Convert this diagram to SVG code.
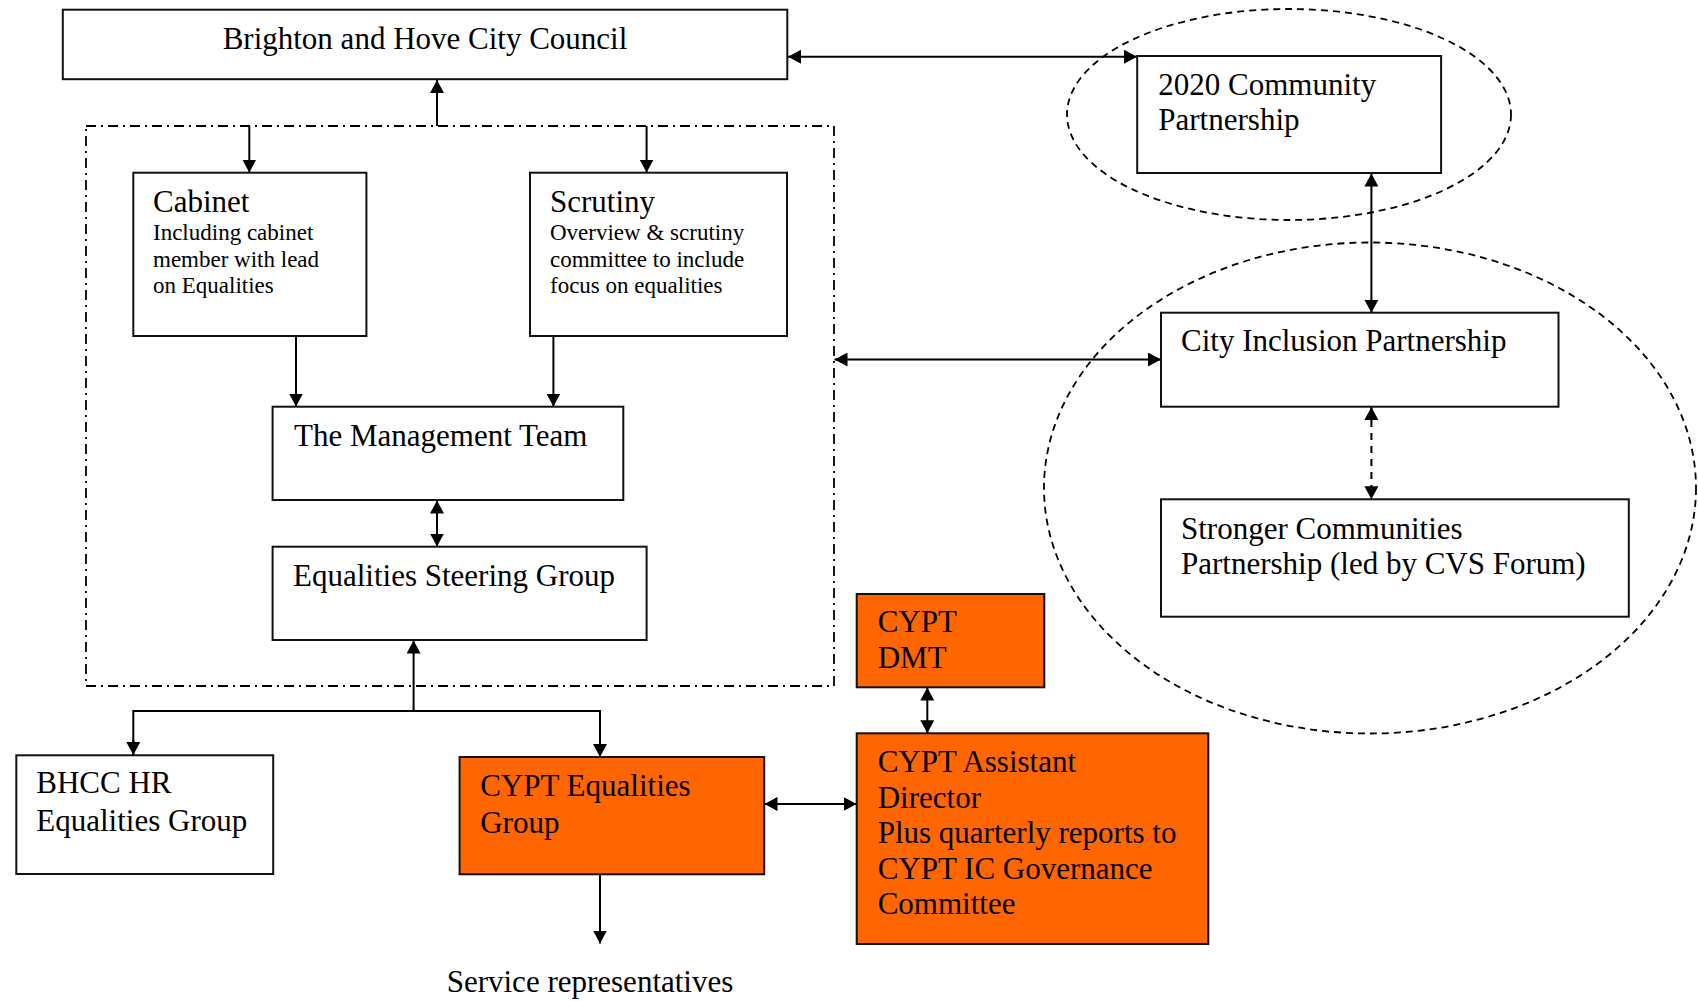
<svg xmlns="http://www.w3.org/2000/svg" width="1698" height="1001" viewBox="0 0 1698 1001">
<style>
.box{fill:#fff;stroke:#111;stroke-width:2}
.org{fill:#ff6600;stroke:#111;stroke-width:2}
.t{font-family:"Liberation Serif","Times New Roman",serif;font-size:31px;fill:#000}
.s{font-family:"Liberation Serif","Times New Roman",serif;font-size:23px;fill:#000}
.c{fill:none;stroke:#000;stroke-width:2}
.d{fill:none;stroke:#000;stroke-width:2;stroke-dasharray:7 6}
.grp{fill:none;stroke:#000;stroke-width:1.8;stroke-dasharray:7 5}
.cont{fill:none;stroke:#000;stroke-width:1.8;stroke-dasharray:10 5 2 5}
</style>
<defs>
<marker id="ah" markerUnits="userSpaceOnUse" markerWidth="14" markerHeight="14" refX="13" refY="7" orient="auto-start-reverse">
<path d="M0,0 L13,7 L0,14 z" fill="#000"/>
</marker>
</defs>
<rect width="1698" height="1001" fill="#fff"/>

<g id="groups">
<rect id="council-group" class="cont" x="86" y="126" width="748" height="560"/>
<ellipse id="community-group" class="grp" cx="1289" cy="114.5" rx="222" ry="105.5"/>
<ellipse id="inclusion-group" class="grp" cx="1370" cy="488" rx="326" ry="245.5"/>
</g>

<g id="connectors">
<line class="c" x1="437" y1="126" x2="437" y2="80" marker-end="url(#ah)"/>
<line class="c" x1="249.3" y1="126" x2="249.3" y2="172.5" marker-end="url(#ah)"/>
<line class="c" x1="646.6" y1="126" x2="646.6" y2="172.5" marker-end="url(#ah)"/>
<line class="c" x1="296" y1="336" x2="296" y2="406.5" marker-end="url(#ah)"/>
<line class="c" x1="553.4" y1="336" x2="553.4" y2="406.5" marker-end="url(#ah)"/>
<line class="c" x1="437" y1="500.5" x2="437" y2="546.5" marker-start="url(#ah)" marker-end="url(#ah)"/>
<line class="c" x1="413.6" y1="711" x2="413.6" y2="640.5" marker-end="url(#ah)"/>
<polyline class="c" points="133.3,755 133.3,711 600,711 600,757"/>
<line class="c" x1="133.3" y1="740" x2="133.3" y2="755" marker-end="url(#ah)"/>
<line class="c" x1="600" y1="740" x2="600" y2="757" marker-end="url(#ah)"/>
<line class="c" x1="600" y1="874.5" x2="600" y2="943.5" marker-end="url(#ah)"/>
<line class="c" x1="764.5" y1="804" x2="856.5" y2="804" marker-start="url(#ah)" marker-end="url(#ah)"/>
<line class="c" x1="927.3" y1="687.5" x2="927.3" y2="733.3" marker-start="url(#ah)" marker-end="url(#ah)"/>
<line class="c" x1="788" y1="56.7" x2="1137" y2="56.7" marker-start="url(#ah)" marker-end="url(#ah)"/>
<line class="c" x1="834.5" y1="359.5" x2="1161" y2="359.5" marker-start="url(#ah)" marker-end="url(#ah)"/>
<line class="c" x1="1371.4" y1="173.5" x2="1371.4" y2="312.7" marker-start="url(#ah)" marker-end="url(#ah)"/>
<line class="d" x1="1371.4" y1="407" x2="1371.4" y2="499.3" marker-start="url(#ah)" marker-end="url(#ah)"/>
</g>

<g id="council">
<rect class="box" x="62.8" y="9.7" width="724.5" height="69.5"/>
<text class="t" x="425" y="49" text-anchor="middle">Brighton and Hove City Council</text>
</g>

<g id="cabinet">
<rect class="box" x="133.3" y="172.7" width="233.1" height="163.3"/>
<text class="t" x="153" y="212">Cabinet</text>
<text class="s" x="153" y="240">Including cabinet</text>
<text class="s" x="153" y="266.7">member with lead</text>
<text class="s" x="153" y="293.3">on Equalities</text>
</g>

<g id="scrutiny">
<rect class="box" x="530" y="172.7" width="257" height="163.3"/>
<text class="t" x="550" y="212">Scrutiny</text>
<text class="s" x="550" y="240">Overview &amp; scrutiny</text>
<text class="s" x="550" y="266.7">committee to include</text>
<text class="s" x="550" y="293.3">focus on equalities</text>
</g>

<g id="management-team">
<rect class="box" x="272.6" y="406.7" width="350.7" height="93.3"/>
<text class="t" x="294" y="446">The Management Team</text>
</g>

<g id="equalities-steering-group">
<rect class="box" x="272.6" y="546.7" width="374" height="93.3"/>
<text class="t" x="293" y="586">Equalities Steering Group</text>
</g>

<g id="bhcc-hr">
<rect class="box" x="16.3" y="755.3" width="256.9" height="118.7"/>
<text class="t" x="36.3" y="793.3">BHCC HR</text>
<text class="t" x="36.3" y="830.7">Equalities Group</text>
</g>

<g id="cypt-equalities-group">
<rect class="org" x="459.6" y="757" width="304.6" height="117.3"/>
<text class="t" x="480.2" y="796">CYPT Equalities</text>
<text class="t" x="480.2" y="832.7">Group</text>
</g>

<g id="service-representatives">
<text class="t" x="590" y="992" text-anchor="middle">Service representatives</text>
</g>

<g id="cypt-dmt">
<rect class="org" x="856.7" y="594" width="187.6" height="93.3"/>
<text class="t" x="877.7" y="631.7">CYPT</text>
<text class="t" x="877.7" y="667.7">DMT</text>
</g>

<g id="cypt-assistant-director">
<rect class="org" x="856.7" y="733.3" width="351.6" height="210.7"/>
<text class="t" x="877.7" y="771.7">CYPT Assistant</text>
<text class="t" x="877.7" y="807.7">Director</text>
<text class="t" x="877.7" y="843.3">Plus quarterly reports to</text>
<text class="t" x="877.7" y="879">CYPT IC Governance</text>
<text class="t" x="877.7" y="914.3">Committee</text>
</g>

<g id="community-partnership">
<rect class="box" x="1137.2" y="56" width="303.9" height="117"/>
<text class="t" x="1158.3" y="95">2020 Community</text>
<text class="t" x="1158.3" y="130">Partnership</text>
</g>

<g id="city-inclusion-partnership">
<rect class="box" x="1161" y="312.7" width="397.5" height="94"/>
<text class="t" x="1181" y="351">City Inclusion Partnership</text>
</g>

<g id="stronger-communities-partnership">
<rect class="box" x="1161" y="499.3" width="467.8" height="117.4"/>
<text class="t" x="1181" y="539">Stronger Communities</text>
<text class="t" x="1181" y="574">Partnership (led by CVS Forum)</text>
</g>
</svg>
